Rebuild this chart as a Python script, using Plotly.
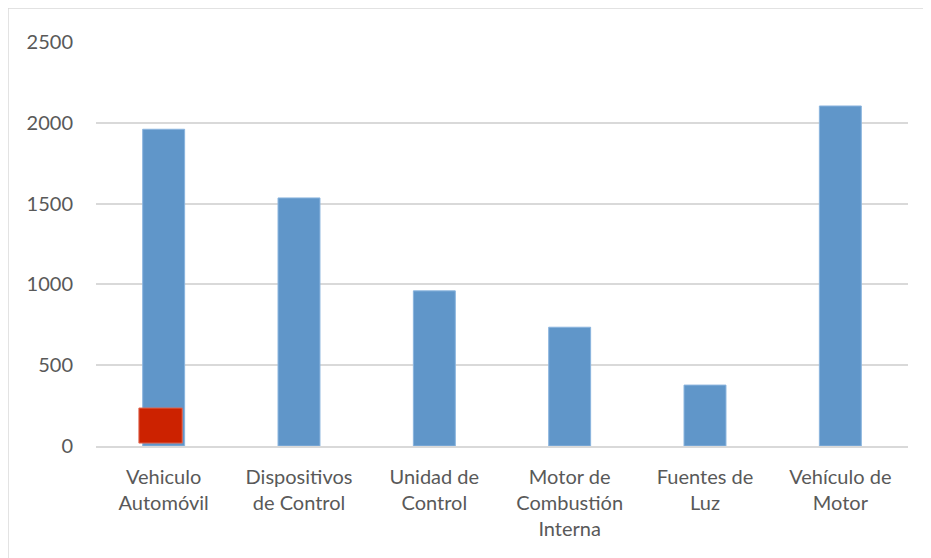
import plotly.graph_objects as go

categories = ["Vehiculo<br>Automóvil", "Dispositivos<br>de Control", "Unidad de<br>Control",
              "Motor de<br>Combustión<br>Interna", "Fuentes de<br>Luz", "Vehículo de<br>Motor"]
values = [1960, 1535, 960, 735, 377, 2104]
red_category = [categories[0]]
red_base = [18]
red_height = [217]

fig = go.Figure()
fig.add_trace(go.Bar(x=categories, y=values, marker=dict(color="#6096C9", line=dict(color="#8AB4DE", width=1)),
                     width=0.31))
fig.add_trace(go.Bar(x=red_category, y=red_height, base=red_base, width=0.32, offset=-0.183,
                     marker=dict(color="#CC2200", line=dict(color="#E06A55", width=1))))

font = "Lato, Carlito, sans-serif"
fig.update_layout(
    width=931, height=558,
    margin=dict(l=88, r=31, t=34, b=120),
    paper_bgcolor="white", plot_bgcolor="white",
    barmode="overlay", showlegend=False,
    font=dict(family=font, size=20, color="#595959"),
    xaxis=dict(showgrid=False, showline=True, linecolor="#D9D9D9", linewidth=1.5,
               ticks="", ticklabelstandoff=12, tickfont=dict(size=20, color="#595959")),
    yaxis=dict(range=[0, 2500], dtick=500, showgrid=True, gridcolor="#D9D9D9", gridwidth=1.5,
               zeroline=False, ticks="", ticklabelstandoff=22, tickfont=dict(size=20, color="#595959")),
    shapes=[
        dict(type="line", xref="paper", yref="paper", x0=-0.1084, x1=1.05, y0=1.084, y1=1.084,
             line=dict(color="#D9D9D9", width=1.5)),
        dict(type="line", xref="paper", yref="paper", x0=-0.1084, x1=-0.1084, y0=1.084, y1=-0.4,
             line=dict(color="#D9D9D9", width=1.5)),
    ],
)
fig.write_html("out.html")
